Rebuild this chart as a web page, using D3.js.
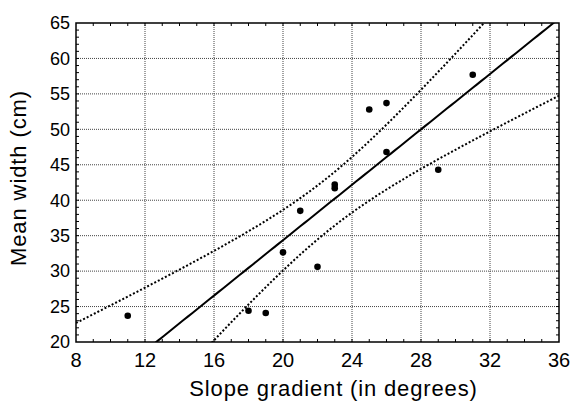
<!DOCTYPE html>
<html>
<head>
<meta charset="utf-8">
<script src="https://cdn.jsdelivr.net/npm/d3@7"></script>
<style>
  body { margin: 0; background: #fff; }
  svg { display: block; font-family: "Liberation Sans", Arial, sans-serif; }
</style>
</head>
<body>
<svg width="572" height="401"></svg>
<script>
// measured points
const slope = [11, 18, 19, 20, 21, 22, 23, 23, 25, 26, 26, 29, 31];
const width = [23.7, 24.4, 24.1, 32.65, 38.5, 30.6, 41.7, 42.2, 52.8, 53.7, 46.8, 44.3, 57.7];

const xTicks = [8, 12, 16, 20, 24, 28, 32, 36];
const yTicks = [20, 25, 30, 35, 40, 45, 50, 55, 60, 65];

const tCrit = 2.201; // t(0.975, df = 11)

const svg = d3.select("svg");
const margin = { left: 76, right: 13, top: 23, bottom: 59 };
const W = 572, H = 401;

const x = d3.scaleLinear().domain([8, 36]).range([margin.left, W - margin.right]);
const y = d3.scaleLinear().domain([20, 65]).range([H - margin.bottom, margin.top]);

// least squares fit + 95% band of the mean
const n = slope.length;
const mx = d3.mean(slope), my = d3.mean(width);
const sxx = d3.sum(slope, v => (v - mx) ** 2);
const sxy = d3.sum(slope, (v, i) => (v - mx) * (width[i] - my));
const b = sxy / sxx, a = my - b * mx;
const sse = d3.sum(slope, (v, i) => (width[i] - a - b * v) ** 2);
const s = Math.sqrt(sse / (n - 2));
const xs = d3.range(8, 36.01, 0.25);
const band = xs.map(v => {
  const hw = tCrit * s * Math.sqrt(1 / n + (v - mx) ** 2 / sxx);
  return { x: v, fit: a + b * v, lo: a + b * v - hw, hi: a + b * v + hw };
});

svg.append("clipPath").attr("id", "clip")
  .append("rect")
  .attr("x", x(8)).attr("y", y(65))
  .attr("width", x(36) - x(8)).attr("height", y(20) - y(65));

// grid
svg.append("g").selectAll("line").data(xTicks.slice(1, -1)).join("line")
  .attr("x1", d => x(d)).attr("x2", d => x(d))
  .attr("y1", y(20)).attr("y2", y(65))
  .attr("stroke", "#444").attr("stroke-width", 1).attr("stroke-dasharray", "1,1");
svg.append("g").selectAll("line").data(yTicks.slice(1, -1)).join("line")
  .attr("y1", d => y(d)).attr("y2", d => y(d))
  .attr("x1", x(8)).attr("x2", x(36))
  .attr("stroke", "#444").attr("stroke-width", 1).attr("stroke-dasharray", "1,1");

// minor ticks on all four sides, pointing in
const tk = 3;
const xMinor = d3.range(9, 36);
const yMinor = d3.range(21, 65);
const ticks = svg.append("g").attr("stroke", "#000").attr("stroke-width", 1);
ticks.selectAll(".tb").data(xMinor).join("line")
  .attr("x1", d => x(d)).attr("x2", d => x(d))
  .attr("y1", y(20)).attr("y2", y(20) - tk);
ticks.selectAll(".tt").data(xMinor).join("line")
  .attr("x1", d => x(d)).attr("x2", d => x(d))
  .attr("y1", y(65)).attr("y2", y(65) + tk);
ticks.selectAll(".tl").data(yMinor).join("line")
  .attr("y1", d => y(d)).attr("y2", d => y(d))
  .attr("x1", x(8)).attr("x2", x(8) + tk);
ticks.selectAll(".tr").data(yMinor).join("line")
  .attr("y1", d => y(d)).attr("y2", d => y(d))
  .attr("x1", x(36)).attr("x2", x(36) - tk);

// fit lines
const plot = svg.append("g").attr("clip-path", "url(#clip)");
const line = key => d3.line().x(d => x(d.x)).y(d => y(d[key]));
plot.append("path").datum(band).attr("d", line("fit"))
  .attr("fill", "none").attr("stroke", "#000").attr("stroke-width", 2);
["lo", "hi"].forEach(k => {
  plot.append("path").datum(band).attr("d", line(k))
    .attr("fill", "none").attr("stroke", "#000").attr("stroke-width", 2)
    .attr("stroke-dasharray", "2,2");
});

// points
svg.append("g").selectAll("circle").data(slope).join("circle")
  .attr("cx", d => x(d)).attr("cy", (d, i) => y(width[i]))
  .attr("r", 3.3).attr("fill", "#000");

// frame
svg.append("rect")
  .attr("x", x(8)).attr("y", y(65))
  .attr("width", x(36) - x(8)).attr("height", y(20) - y(65))
  .attr("fill", "none").attr("stroke", "#000").attr("stroke-width", 1.5);

// tick labels
svg.append("g").selectAll("text").data(xTicks).join("text")
  .attr("x", d => x(d)).attr("y", 366.5)
  .attr("text-anchor", "middle").attr("font-size", 20)
  .text(d => d);
svg.append("g").selectAll("text").data(yTicks).join("text")
  .attr("x", 70).attr("y", d => y(d)).attr("dy", "0.35em")
  .attr("text-anchor", "end").attr("font-size", 18)
  .text(d => d);

// axis titles
svg.append("text")
  .attr("x", (x(8) + x(36)) / 2 + 16).attr("y", 396)
  .attr("text-anchor", "middle").attr("font-size", 22)
  .attr("letter-spacing", 0.85)
  .text("Slope gradient (in degrees)");
svg.append("text")
  .attr("transform", "translate(26,178) rotate(-90)")
  .attr("text-anchor", "middle").attr("font-size", 22)
  .attr("letter-spacing", 0.9)
  .text("Mean width (cm)");
</script>
</body>
</html>
